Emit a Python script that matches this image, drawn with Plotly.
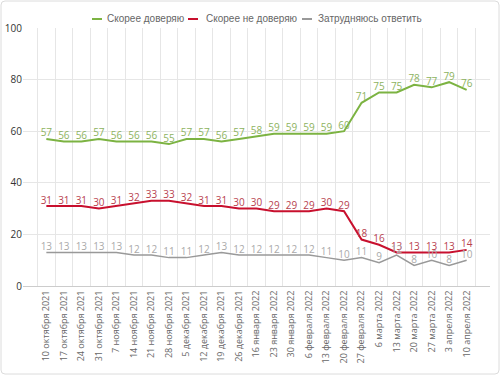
import plotly.graph_objects as go

dates = ["10 октября 2021", "17 октября 2021", "24 октября 2021", "31 октября 2021",
         "7 ноября 2021", "14 ноября 2021", "21 ноября 2021", "28 ноября 2021",
         "5 декабря 2021", "12 декабря 2021", "19 декабря 2021", "26 декабря 2021",
         "16 января 2022", "23 января 2022", "30 января 2022",
         "6 февраля 2022", "13 февраля 2022", "20 февраля 2022", "27 февраля 2022",
         "6 марта 2022", "13 марта 2022", "20 марта 2022", "27 марта 2022",
         "3 апреля 2022", "10 апреля 2022"]
trust = [57, 56, 56, 57, 56, 56, 56, 55, 57, 57, 56, 57, 58, 59, 59, 59, 59, 60, 71, 75, 75, 78, 77, 79, 76]
distrust = [31, 31, 31, 30, 31, 32, 33, 33, 32, 31, 31, 30, 30, 29, 29, 29, 30, 29, 18, 16, 13, 13, 13, 13, 14]
unsure = [13, 13, 13, 13, 13, 12, 12, 11, 11, 12, 13, 12, 12, 12, 12, 12, 11, 10, 11, 9, 12, 8, 10, 8, 10]
names = ["Скорее доверяю", "Скорее не доверяю", "Затрудняюсь ответить"]

colors = ["#7cb342", "#c8102e", "#999999"]
text_colors = ["#8db360", "#b8424f", "#aaaaaa"]
widths = [2, 2, 1.5]

W, H = 500, 375
L, R, T, B = 23, 10, 28, 89
pw, ph = W - L - R, H - T - B

def px(x):
    return (x - L) / pw

def py(y):
    return (H - B - y) / ph

fig = go.Figure()
for name, vals, col, tcol, w in zip(names, [trust, distrust, unsure], colors, text_colors, widths):
    fig.add_trace(go.Scatter(
        x=dates, y=vals, name=name, mode="lines+text",
        line=dict(color=col, width=w),
        text=[str(v) for v in vals], textposition="top center",
        textfont=dict(color=tcol, size=10, family="Open Sans"),
        cliponaxis=False, showlegend=False, hoverinfo="skip",
    ))

# custom compact legend (short line symbols like the reference)
shapes = []
annotations = []
legend_pos = [(92, 102, 105), (188, 198, 204), (302, 312, 316)]
for name, col, (lx0, lx1, tx) in zip(names, colors, legend_pos):
    shapes.append(dict(type="line", xref="paper", yref="paper",
                       x0=px(lx0), x1=px(lx1), y0=py(19), y1=py(19),
                       line=dict(color=col, width=2)))
    annotations.append(dict(xref="paper", yref="paper", x=px(tx), y=py(19),
                            xanchor="left", yanchor="middle", showarrow=False,
                            text=name, font=dict(size=10, color="#666",
                                                 family="Liberation Sans")))

# rounded outer border
r = 4
x0, x1, y0, y1 = 1, 499, 1, 374
path = (f"M {px(x0 + r)},{py(y0)} L {px(x1 - r)},{py(y0)} "
        f"Q {px(x1)},{py(y0)} {px(x1)},{py(y0 + r)} "
        f"L {px(x1)},{py(y1 - r)} Q {px(x1)},{py(y1)} {px(x1 - r)},{py(y1)} "
        f"L {px(x0 + r)},{py(y1)} Q {px(x0)},{py(y1)} {px(x0)},{py(y1 - r)} "
        f"L {px(x0)},{py(y0 + r)} Q {px(x0)},{py(y0)} {px(x0 + r)},{py(y0)} Z")
shapes.append(dict(type="path", xref="paper", yref="paper", path=path,
                   line=dict(color="#dcdcdc", width=1)))

fig.update_layout(
    width=W, height=H,
    margin=dict(l=L, r=R, t=T, b=B, autoexpand=False),
    paper_bgcolor="white", plot_bgcolor="white",
    font=dict(family="Open Sans", size=10, color="#666"),
    showlegend=False, hovermode=False,
    xaxis=dict(type="category", tickson="boundaries", showgrid=True,
               gridcolor="#e6e6e6", gridwidth=1, tickangle=-90,
               tickfont=dict(size=9, color="#666"), showline=True,
               linecolor="#ccc", ticks="", zeroline=False, automargin=False),
    yaxis=dict(range=[0, 100], tickvals=[0, 20, 40, 60, 80, 100], showgrid=True,
               gridcolor="#e6e6e6", zeroline=False, showline=False,
               tickfont=dict(size=10, color="#333"), automargin=False),
    shapes=shapes,
    annotations=annotations,
)

fig.write_html("out.html", config={"displayModeBar": False},
               post_script="document.body.style.margin='0px';")
